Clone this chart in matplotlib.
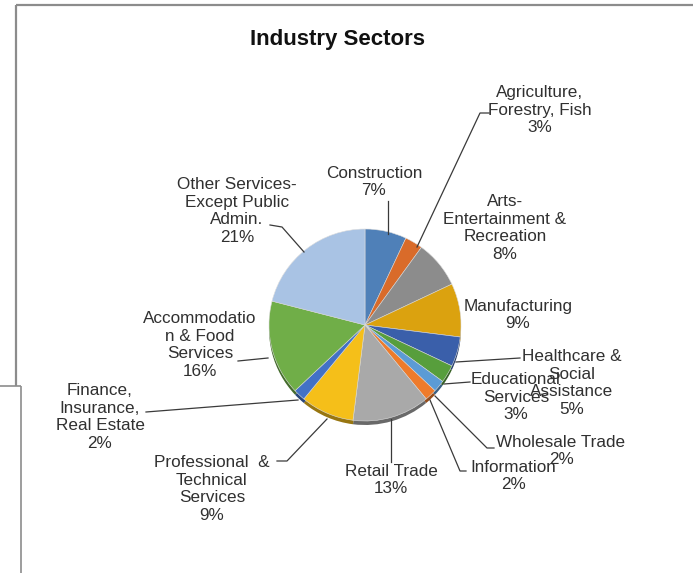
import matplotlib
matplotlib.use("Agg")
import matplotlib.pyplot as plt
from matplotlib.colors import to_rgb

W, H = 693, 573

categories = [
    "Construction",
    "Agriculture,\nForestry, Fish",
    "Arts-\nEntertainment &\nRecreation",
    "Manufacturing",
    "Healthcare &\nSocial\nAssistance",
    "Educational\nServices",
    "Wholesale Trade",
    "Information",
    "Retail Trade",
    "Professional  &\nTechnical\nServices",
    "Finance,\nInsurance,\nReal Estate",
    "Accommodatio\nn & Food\nServices",
    "Other Services-\nExcept Public\nAdmin.",
]
values = [7, 3, 8, 9, 5, 3, 2, 2, 13, 9, 2, 16, 21]
colors = ["#4F80B8", "#D96B2A", "#8C8C8C", "#DBA20F", "#3A5FAA", "#579E3C",
          "#5B9BD5", "#EE7B2B", "#A9A9A9", "#F5BF19", "#4271C6", "#70AE48",
          "#A9C3E4"]

# label layout (pixel coords, y from top): text centre, leader polyline
label_pos = [
    (374, 182), (540, 110), (505, 228), (518, 315), (572, 383), (516, 397),
    (561, 451), (513, 476), (391, 480), (212, 489), (100, 417), (200, 345),
    (237, 211),
]
leaders = [
    [(388, 201), (388, 234)],
    [(489, 113), (480, 113), (417, 247)],
    None,
    None,
    [(520, 358), (456, 362)],
    [(470, 382), (444, 384)],
    [(494, 448), (487, 448), (435, 396)],
    [(466, 471), (460, 471), (430, 400)],
    [(391, 462), (391, 419)],
    [(277, 461), (287, 461), (327, 419)],
    [(146, 412), (298, 400)],
    [(238, 361), (268, 358)],
    [(270, 225), (282, 227), (304, 252)],
]

fig = plt.figure(figsize=(W / 100, H / 100), dpi=100)
ax = fig.add_axes([0, 0, 1, 1])

def Y(y):
    return H - y

cx, cy, r = 365, 325, 96

# bevel / shadow
dark = [tuple(c * 0.62 for c in to_rgb(col)) for col in colors]
ax.pie(values, colors=dark, startangle=90, counterclock=False,
       radius=r, center=(cx, Y(cy) - 4), frame=True,
       wedgeprops=dict(linewidth=0))
ax.pie(values, colors=colors, startangle=90, counterclock=False,
       radius=r, center=(cx, Y(cy)), frame=True,
       wedgeprops=dict(linewidth=0.4, edgecolor="#dddddd"))
ax.set_xlim(0, W)
ax.set_ylim(0, H)
ax.set_aspect("equal")
ax.axis("off")

# window frame lines
fc = "#8C8C8C"
ax.plot([16, W], [Y(4.5), Y(4.5)], color=fc, lw=1.6, solid_capstyle="butt")
ax.plot([16, 16], [Y(4.5), Y(386)], color=fc, lw=1.6, solid_capstyle="butt")
ax.plot([0, 21], [Y(386), Y(386)], color=fc, lw=1.2, solid_capstyle="butt")
ax.plot([21, 21], [Y(386), 0], color=fc, lw=1.2, solid_capstyle="butt")

for cat, v, (lx, ly), ld in zip(categories, values, label_pos, leaders):
    ax.text(lx, Y(ly), f"{cat}\n{v}%", ha="center", va="center",
            fontsize=12.3, family="Liberation Sans", color="#303030",
            linespacing=1.2, zorder=5)
    if ld:
        xs = [p[0] for p in ld]
        ys = [Y(p[1]) for p in ld]
        ax.plot(xs, ys, color="#3a3a3a", lw=0.9, zorder=4)

ax.text(338, Y(40), "Industry Sectors", ha="center", va="center",
        fontsize=16, fontweight="bold", family="Liberation Sans",
        color="#111111")

fig.savefig("out.png", dpi=100)
